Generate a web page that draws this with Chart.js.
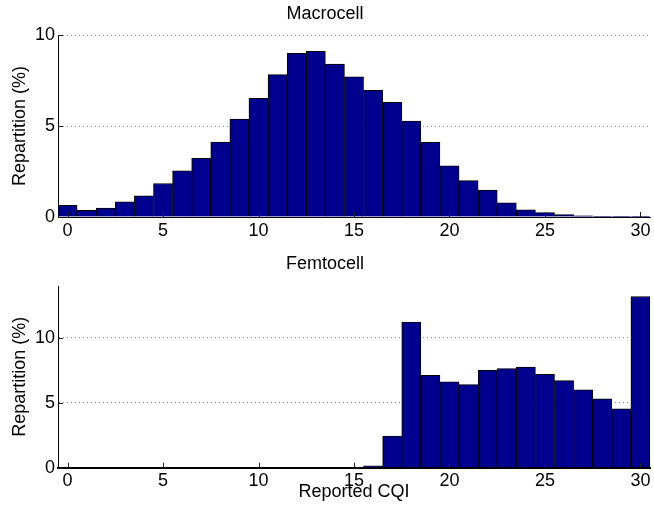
<!DOCTYPE html>
<html>
<head>
<meta charset="utf-8">
<script src="https://cdn.jsdelivr.net/npm/chart.js@4/dist/chart.umd.min.js"></script>
<style>
  html, body { margin: 0; padding: 0; background: #fff; }
  #wrap { position: relative; width: 654px; height: 515px; }
  .panel { position: absolute; left: 0; width: 654px; }
  #topPanel { top: 0; height: 248px; }
  #botPanel { top: 248px; height: 267px; }
</style>
</head>
<body>
<div id="wrap">
  <div class="panel" id="topPanel"><canvas id="macro"></canvas></div>
  <div class="panel" id="botPanel"><canvas id="femto"></canvas></div>
</div>
<script>
const cqi = [0, 1, 2, 3, 4, 5, 6, 7, 8, 9, 10, 11, 12, 13, 14, 15,
  16, 17, 18, 19, 20, 21, 22, 23, 24, 25, 26, 27, 28, 29, 30];
const macroPct = [0.64, 0.36, 0.49, 0.84, 1.17, 1.84, 2.54, 3.23, 4.12, 5.38, 6.53,
  7.83, 9.0, 9.11, 8.41, 7.7, 6.97, 6.3, 5.27, 4.11, 2.81, 2.0, 1.48, 0.78, 0.4,
  0.24, 0.13, 0.07, 0.02, 0.02, 0.02];
const femtoPct = [0, 0, 0, 0, 0, 0, 0, 0, 0, 0, 0, 0, 0, 0, 0, 0,
  0.15, 2.43, 11.22, 7.12, 6.61, 6.4, 7.5, 7.63, 7.76, 7.19, 6.71, 6.0, 5.31, 4.54, 13.19];
const yTicks = [0, 5, 10];

const FONT = "'Liberation Sans', Arial, Helvetica, sans-serif";
const BAR_FILL = "#00008f";

// matlab-style ticks pointing into the axes
const inwardTicks = {
  id: "inwardTicks",
  afterDatasetsDraw(chart) {
    const { ctx, chartArea, scales } = chart;
    ctx.save();
    ctx.strokeStyle = "#222";
    ctx.lineWidth = 1;
    ctx.beginPath();
    cqi.forEach((c, i) => {
      if (c % 5 !== 0) return;
      const x = Math.round(scales.x.getPixelForValue(i)) + 0.5;
      ctx.moveTo(x, chartArea.bottom);
      ctx.lineTo(x, chartArea.bottom - 5);
    });
    yTicks.forEach(v => {
      const y = Math.round(scales.y.getPixelForValue(v)) + 0.5;
      ctx.moveTo(chartArea.left, y);
      ctx.lineTo(chartArea.left + 5, y);
    });
    ctx.stroke();
    ctx.restore();
  }
};

function makeChart(id, title, values, yMax, opts) {
  return new Chart(document.getElementById(id), {
    type: "bar",
    data: {
      labels: cqi.map(String),
      datasets: [{
        data: values,
        backgroundColor: BAR_FILL,
        borderColor: "#000",
        borderWidth: 1,
        barPercentage: 1,
        categoryPercentage: 1
      }]
    },
    options: {
      responsive: true,
      maintainAspectRatio: false,
      animation: false,
      layout: { padding: { left: 0, right: 4, top: 0, bottom: 0 } },
      plugins: {
        legend: { display: false },
        tooltip: { enabled: false },
        title: {
          display: true,
          text: title,
          color: "#000",
          font: { family: FONT, size: 18, weight: "normal" },
          padding: opts.titlePad
        }
      },
      scales: {
        x: {
          grid: { display: false, drawTicks: false },
          border: { display: true, color: "#000", width: opts.xBorder },
          ticks: {
            autoSkip: false,
            maxRotation: 0,
            padding: 3,
            color: "#000",
            font: { family: FONT, size: 18 },
            callback: function (value, index) {
              return cqi[index] % 5 === 0 ? String(cqi[index]) : "";
            }
          },
          title: {
            display: !!opts.xTitle,
            text: opts.xTitle || "",
            color: "#000",
            font: { family: FONT, size: 18 },
            padding: { top: 0, bottom: 12 }
          },
          afterFit(scale) { scale.height = opts.xHeight; }
        },
        y: {
          min: 0,
          max: yMax,
          afterBuildTicks(scale) {
            scale.ticks = yTicks.map(v => ({ value: v }));
          },
          grid: {
            drawTicks: false,
            color: ctx => (ctx.tick && ctx.tick.value === 0) ? "rgba(0,0,0,0)" : "#8a8a8a",
            lineWidth: 1
          },
          border: { display: true, color: "#000", width: 1, dash: [1, 3] },
          ticks: {
            padding: 3,
            color: "#000",
            font: { family: FONT, size: 18 }
          },
          title: {
            display: true,
            text: "Repartition (%)",
            color: "#000",
            font: { family: FONT, size: 18 },
            padding: { top: 9, bottom: 0 }
          },
          afterFit(scale) { scale.width = 58; }
        }
      }
    },
    plugins: [inwardTicks]
  });
}

makeChart("macro", "Macrocell", macroPct, 10, {
  titlePad: { top: 3, bottom: 10.5 },
  xHeight: 31,
  xBorder: 1
});

makeChart("femto", "Femtocell", femtoPct, 14, {
  titlePad: { top: 5, bottom: 11.4 },
  xHeight: 47.3,
  xBorder: 2,
  xTitle: "Reported CQI"
});
</script>
</body>
</html>
